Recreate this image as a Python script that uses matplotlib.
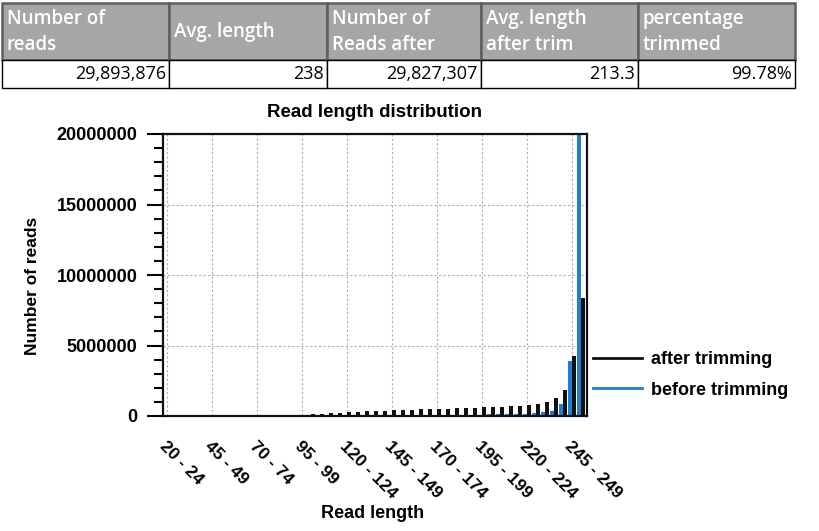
import matplotlib
matplotlib.use("Agg")
import matplotlib.pyplot as plt
import matplotlib.patches as patches
from matplotlib.lines import Line2D
from matplotlib.ticker import MultipleLocator
import numpy as np

plt.rcParams["font.family"] = ["Liberation Sans", "DejaVu Sans"]

# ---------------- table values ----------------
HEADERS = ["Number of\nreads", "Avg. length", "Number of\nReads after",
           "Avg. length\nafter trim", "percentage\ntrimmed"]
VALUES = ["29,893,876", "238", "29,827,307", "213.3", "99.78%"]

# ---------------- histogram values ----------------
starts = list(range(20, 255, 5))
CATS = [f"{s} - {s + 4}" for s in starts]
CATS[-1] = "250 - 251"
AFTER = [0, 0, 0, 0, 0, 0, 0, 0, 5e3, 1e4,
         2e4, 3e4, 4e4, 5e4, 7e4,
         9e4, 1.1e5, 1.4e5, 1.8e5, 2.2e5,
         2.7e5, 3.0e5, 3.3e5, 3.6e5, 3.9e5,
         4.1e5, 4.3e5, 4.5e5, 4.7e5, 4.9e5,
         5.1e5, 5.3e5, 5.5e5, 5.7e5, 5.9e5,
         6.1e5, 6.3e5, 6.5e5, 6.8e5, 7.1e5,
         7.6e5, 8.3e5, 1.0e6, 1.25e6, 1.85e6,
         4.25e6, 8.4e6]
BEFORE = [0, 0, 0, 0, 0, 0, 0, 0, 0, 0,
          1e4, 1e4, 1.5e4, 2e4, 2e4,
          2.5e4, 3e4, 3e4, 3.5e4, 4e4,
          4e4, 4.5e4, 5e4, 5e4, 5.5e4,
          6e4, 6e4, 6.5e4, 7e4, 7e4,
          7.5e4, 8e4, 8.5e4, 9e4, 9.5e4,
          1.0e5, 1.1e5, 1.2e5, 1.3e5, 1.4e5,
          1.6e5, 1.9e5, 2.6e5, 3.6e5, 8.3e5,
          3.9e6, 1.99e7]

BLUE = "#1c7fd6"
BLACK = "#111111"

fig = plt.figure(figsize=(8.2, 5.31), dpi=100)

# ---------------- table (pixel overlay) ----------------
tab = fig.add_axes([0, 0, 1, 1])
tab.set_xlim(0, 820); tab.set_ylim(531, 0); tab.axis("off")
col_edges = [2, 169, 327, 481, 638, 795]
for i, (h, v) in enumerate(zip(HEADERS, VALUES)):
    x0, x1 = col_edges[i], col_edges[i + 1]
    tab.add_patch(patches.Rectangle((x0, 3), x1 - x0, 57, fc="#a6a6a6",
                                    ec="#5e5e5e", lw=1.8))
    tab.add_patch(patches.Rectangle((x0, 60), x1 - x0, 28, fc="white",
                                    ec="black", lw=1.0))
    tab.text(x0 + 5, 32, h, ha="left", va="center", color="white",
             fontsize=13.5, weight="semibold", family=["Open Sans", "DejaVu Sans"],
             linespacing=1.45)
    tab.text(x1 - 3, 74, v, ha="right", va="center", color="black",
             fontsize=13, family=["Open Sans", "DejaVu Sans"])

# ---------------- bar chart ----------------
ax = fig.add_axes([163 / 820, 1 - 416 / 531, 424 / 820, 282 / 531])
x = np.arange(len(CATS))
ax.bar(x - 0.28, BEFORE, width=0.45, color=BLUE, zorder=2)
ax.bar(x + 0.17, AFTER, width=0.45, color=BLACK, zorder=3)

ax.set_xlim(-0.45, 46.65)
ax.set_ylim(0, 20000000)
ax.set_xticks(x[::5])
ax.set_xticklabels(CATS[::5], rotation=-45, rotation_mode="anchor",
                   ha="left", va="top", fontsize=12.5, weight="bold")
ax.tick_params(axis="x", length=0, pad=16)
ax.yaxis.set_major_locator(MultipleLocator(5000000))
ax.yaxis.set_minor_locator(MultipleLocator(1000000))
ax.set_yticklabels([f"{int(v)}" for v in ax.get_yticks()], fontsize=13, weight="bold")
ax.tick_params(axis="y", which="major", direction="out", length=11.5, width=1.5, pad=7)
ax.tick_params(axis="y", which="minor", direction="out", length=6.5, width=1.5)

ax.grid(True, which="major", color="#b0b0b0", linestyle=(0, (2, 2)), lw=0.8, zorder=0)
ax.set_axisbelow(True)
for s in ax.spines.values():
    s.set_linewidth(1.6)
    s.set_color("#111111")

ax.set_title("Read length distribution", fontsize=13.5, weight="bold", pad=12)
ax.set_ylabel("Number of reads", fontsize=12.5, weight="bold")
ax.yaxis.set_label_coords(-0.29, 0.46)
ax.set_xlabel("Read length", fontsize=13, weight="bold")
ax.xaxis.set_label_coords(0.495, -0.315)

handles = [Line2D([], [], color=BLACK, lw=2), Line2D([], [], color=BLUE, lw=2)]
fig.legend(handles, ["after trimming", "before trimming"], loc="upper left",
           bbox_to_anchor=(593 / 820, 1 - 351 / 531), frameon=False,
           borderpad=0, borderaxespad=0, handlelength=2.7, handletextpad=0.5,
           labelspacing=0.75, prop={"size": 13, "weight": "bold"})

fig.savefig("out.png", dpi=100)
